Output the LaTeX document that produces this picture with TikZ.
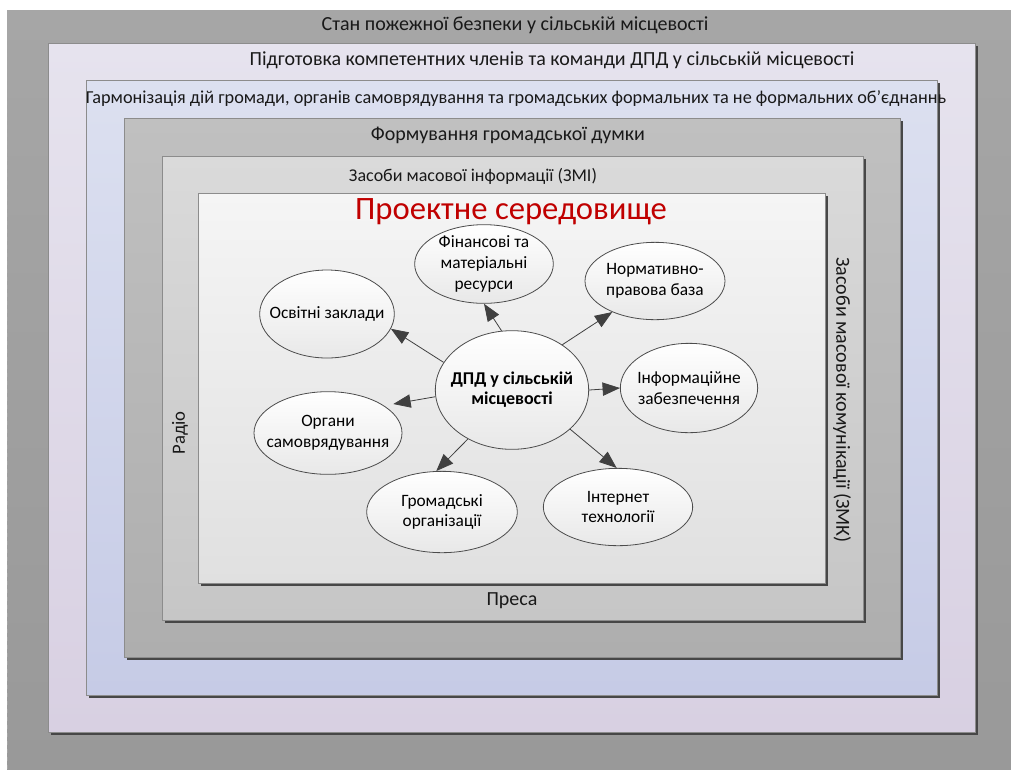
\documentclass[tikz,border=0pt]{standalone}
\usepackage{fontspec}
\setmainfont{Carlito}
\usetikzlibrary{shapes.geometric, arrows.meta, positioning}

\definecolor{outergray}{HTML}{A6A6A6}
\definecolor{outergrayb}{HTML}{999999}
\definecolor{lilac}{HTML}{E6E3EE}
\definecolor{lilacb}{HTML}{D8D0E2}
\definecolor{paleblue}{HTML}{DCE0F0}
\definecolor{paleblueb}{HTML}{C6CBE6}
\definecolor{midgray}{HTML}{C0C0C0}
\definecolor{midgrayb}{HTML}{AEAEAE}
\definecolor{lightgray}{HTML}{DADADA}
\definecolor{lightgrayb}{HTML}{C6C6C6}
\definecolor{paper}{HTML}{F5F5F5}
\definecolor{paperb}{HTML}{E0E0E0}
\definecolor{titlered}{HTML}{C00000}

\begin{document}
\begin{tikzpicture}[x=0.75pt, y=-0.75pt,
	box/.style={draw=black!45, line width=0.5pt},
	boxshadow/.style={fill=black!72},
	lbl/.style={inner sep=0pt, text=black!90, font=\fontsize{15}{18}\selectfont},
	oval/.style={ellipse, draw=black!70, line width=0.6pt, top color=white, bottom color=black!9, align=center, inner xsep=-8pt, inner ysep=-3pt, font=\fontsize{13}{15.5}\selectfont},
	arr/.style={draw=black!75, line width=0.6pt, -{Triangle[length=13pt, width=10pt]}}]
	\useasboundingbox (0,0) rectangle (1011,769);

	\shade[top color=outergray, bottom color=outergrayb] (7,10) rectangle (1011,769);
	\draw[black!35, dashed, line width=0.6pt] (7,769) -- (7,10) -- (1011,10);

	\fill[boxshadow] (51,46) rectangle (978,735);
	\shade[box, top color=lilac, bottom color=lilacb] (48,43) rectangle (975,732);
	\fill[boxshadow] (89,83) rectangle (940,698);
	\shade[box, top color=paleblue, bottom color=paleblueb] (86,80) rectangle (937,695);
	\fill[boxshadow] (127,121) rectangle (903,660);
	\shade[box, top color=midgray, bottom color=midgrayb] (124,118) rectangle (900,657);
	\fill[boxshadow] (165,159) rectangle (866,623);
	\shade[box, top color=lightgray, bottom color=lightgrayb] (162,156) rectangle (863,620);
	\fill[boxshadow] (201,196) rectangle (828,586);
	\shade[box, top color=paper, bottom color=paperb] (198,193) rectangle (825,583);

	\node[lbl] (t1) at (515,25) {Стан пожежної безпеки у сільській місцевості};
	\node[lbl] (t2) at (552,60) {Підготовка компетентних членів та команди ДПД у сільській місцевості};
	\node[lbl, font=\fontsize{13.7}{16}\selectfont] (t3) at (516,99) {Гармонізація дій громади, органів самоврядування та громадських формальних та не формальних об'єднаннь};
	\node[lbl] (t4) at (508,135) {Формування громадської думки};
	\node[lbl, font=\fontsize{13.5}{16}\selectfont] (t5) at (473,176) {Засоби масової інформації (ЗМІ)};
	\node[lbl, text=titlered, font=\fontsize{24.5}{28}\selectfont] (t6) at (511,212) {Проектне середовище};
	\node[lbl, rotate=90, font=\fontsize{14}{16}\selectfont] (r) at (180,433) {Радіо};
	\node[lbl, rotate=-90] (k) at (842,400) {Засоби масової комунікації (ЗМК)};
	\node[lbl] (p) at (512,601) {Преса};

	\node[oval, minimum width=115pt, minimum height=89pt, font=\bfseries\fontsize{13.5}{15}\selectfont] (0) at (512,390) {ДПД у сільській\\місцевості};
	\node[oval, minimum width=101pt, minimum height=66pt] (1) at (327,314) {Освітні заклади};
	\node[oval, minimum width=104pt, minimum height=59pt, font=\fontsize{13}{16}\selectfont] (2) at (484,264) {Фінансові та\\матеріальні\\ресурси};
	\node[oval, minimum width=105pt, minimum height=58pt] (3) at (655,281) {Нормативно-\\правова база};
	\node[oval, minimum width=103pt, minimum height=67pt] (4) at (689,388) {Інформаційне\\забезпечення};
	\node[oval, minimum width=112pt, minimum height=58pt] (5) at (618,507) {Інтернет\\технології};
	\node[oval, minimum width=113pt, minimum height=61pt] (6) at (442,512) {Громадські\\організації};
	\node[oval, minimum width=111pt, minimum height=62pt] (7) at (328,433) {Органи\\самоврядування};

	\draw[arr] (0.158) to (1.-13);
	\draw[arr] (0.100) to (2.-90);
	\draw[arr] (0.42) to (3.-144);
	\draw[arr] (0.0) to (4.180);
	\draw[arr] (0.-34) to (5.92);
	\draw[arr] (0.-132) to (6.98);
	\draw[arr, shorten >=7pt] (0.-175) to (7.26);
\end{tikzpicture}
\end{document}
